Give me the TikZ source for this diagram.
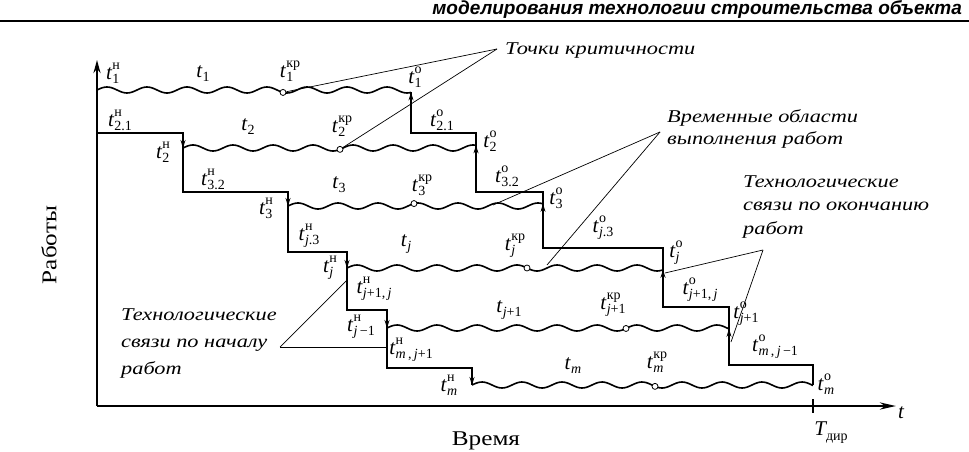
\documentclass[tikz,border=0pt]{standalone}
\usepackage{graphicx}
\usepackage{fontspec}
\setmainfont{Liberation Serif}
\newfontfamily\hdrfont{Liberation Sans}
\usetikzlibrary{arrows.meta}
\newcommand{\tl}[2]{{\itshape t}\kern0.6pt{\fontsize{14}{14}\selectfont\setbox0=\hbox{#1}\setbox2=\hbox{#2}\dimen0=\wd0 \ifdim\wd2>\dimen0 \dimen0=\wd2\fi\rlap{\raisebox{-4pt}{\box0}}\rlap{\raisebox{10pt}{\box2}}\kern\dimen0}}
\newcommand{\jj}{{\itshape j}}
\newcommand{\mm}{{\itshape m}}
\newcommand{\annlines}[1]{\scalebox{1.24}[1]{\begin{tabular}[t]{@{}l@{}}#1\end{tabular}}}
\tikzset{
  axisline/.style={line width=2.6pt},
  stepline/.style={line width=2.6pt, line join=miter},
  wavy/.style={line width=1.6pt},
  thinline/.style={line width=0.7pt},
  crit/.style={circle, draw, line width=0.8pt, fill=white, inner sep=0pt, minimum size=6pt},
  lab/.style={font=\fontsize{21}{21}\selectfont, inner sep=0pt},
  ann/.style={font=\itshape\fontsize{18}{22}\selectfont, inner sep=0pt, anchor=base west},
  arr/.style={-{Stealth[length=8pt,width=5pt]}, line width=1pt},
  declare function={wv(\u,\a,\b)=\b-3*sin(9*(\u-\a));}
}
\begin{document}
\begin{tikzpicture}[x=1pt,y=-1pt]
\useasboundingbox (0,0) rectangle (969,452);
% header
\node[anchor=base east, inner sep=0pt, font=\hdrfont\bfseries\itshape\fontsize{19}{19}\selectfont] (hdr) at (962,15) {моделирования технологии строительства объекта};
\coordinate (hl) at (0,21); \coordinate (hr) at (969,21);
\draw[line width=1.4pt] (hl) -- (hr);
% axes
\coordinate (O) at (97,406);
\coordinate (ytop) at (97,60);
\coordinate (xend) at (896,406);
\draw[axisline, -{Stealth[length=13pt,width=7pt]}] (O) -- (ytop);
\draw[axisline, -{Stealth[length=16pt,width=7pt]}] (O) -- (xend);
\coordinate (tk1) at (813,399); \coordinate (tk2) at (813,413);
\draw[line width=1.4pt] (tk1) -- (tk2);
\node[font=\itshape\fontsize{21}{21}\selectfont, inner sep=0pt] (tax) at (901,413) {t};
\node[inner sep=0pt] (Tdir) at (831,433) {{\itshape\fontsize{21}{21}\selectfont T}{\fontsize{14}{14}\selectfont\raisebox{-5pt}{дир}}};
\node[font=\fontsize{21}{21}\selectfont, inner sep=0pt, anchor=base] (xlab) at (486,445) {\scalebox{1.2}[1]{Время}};
\node[font=\fontsize{21}{21}\selectfont, inner sep=0pt, rotate=90] (ylab) at (49,245) {\scalebox{1.2}[1]{Работы}};
% waves
\draw[wavy] plot[domain=97:411, samples=160] (\x,{wv(\x,97,90)});
\draw[wavy] plot[domain=183:476, samples=160] (\x,{wv(\x,183,148)});
\draw[wavy] plot[domain=288:543, samples=160] (\x,{wv(\x,288,206)});
\draw[wavy] plot[domain=347:663, samples=160] (\x,{wv(\x,347,268)});
\draw[wavy] plot[domain=387:729, samples=160] (\x,{wv(\x,387,328)});
\draw[wavy] plot[domain=472:813, samples=160] (\x,{wv(\x,472,385)});
% wave start / end points
\coordinate (s2) at (183,{wv(183,183,148)});
\coordinate (s3) at (288,{wv(288,288,206)});
\coordinate (sj) at (347,{wv(347,347,268)});
\coordinate (sj1) at (387,{wv(387,387,328)});
\coordinate (sm) at (472,{wv(472,472,385)});
\coordinate (e1) at (411,{wv(411,97,90)});
\coordinate (e2) at (476,{wv(476,183,148)});
\coordinate (e3) at (543,{wv(543,288,206)});
\coordinate (ej) at (663,{wv(663,347,268)});
\coordinate (ej1) at (729,{wv(729,387,328)});
\coordinate (em) at (813,{wv(813,472,385)});
% start-to-start step line
\coordinate (a0) at (97,133);
\draw[stepline] (a0) -- (183,133) -- (183,192) -- (288,192) -- (288,252) -- (347,252) -- (347,310) -- (387,310) -- (387,368) -- (472,368) -- (sm);
\draw[arr] (183,136) -- (s2);
\draw[arr] (288,195) -- (s3);
\draw[arr] (347,255) -- (sj);
\draw[arr] (387,313) -- (sj1);
\draw[arr] (472,371) -- (sm);
% end-to-end step line
\draw[stepline] (e1) -- (411,133) -- (476,133) -- (476,192) -- (543,192) -- (543,248) -- (663,248) -- (663,307) -- (729,307) -- (729,365) -- (813,365) -- (em);
\draw[arr] (411,105) -- (e1);
\draw[arr] (476,162) -- (e2);
\draw[arr] (543,220) -- (e3);
\draw[arr] (663,284) -- (ej);
\draw[arr] (729,342) -- (ej1);
% critical points
\node[crit] (c1) at (283,{wv(283,97,90)}) {};
\node[crit] (c2) at (340,{wv(340,183,148)}) {};
\node[crit] (c3) at (414,{wv(414,288,206)}) {};
\node[crit] (cj) at (527,{wv(527,347,268)}) {};
\node[crit] (cj1) at (626,{wv(626,387,328)}) {};
\node[crit] (cm) at (655,{wv(655,472,385)}) {};
% labels row 1
\node[lab] (l1n) at (113,73) {\tl{1}{н}};
\node[lab] (l1) at (203,74) {\tl{1}{}};
\node[lab] (l1k) at (290,71) {\tl{1}{кр}};
\node[lab] (l1o) at (415,77) {\tl{1}{о}};
% row 2
\node[lab] (l21n) at (120,120) {\tl{2.1}{н}};
\node[lab] (l2) at (248,127) {\tl{2}{}};
\node[lab] (l2k) at (342,126) {\tl{2}{кр}};
\node[lab] (l2n) at (163,152) {\tl{2}{н}};
\node[lab] (l21o) at (442,120) {\tl{2.1}{о}};
\node[lab] (l2o) at (490,141) {\tl{2}{о}};
% row 3
\node[lab] (l32n) at (213,179) {\tl{3.2}{н}};
\node[lab] (l3) at (339,185) {\tl{3}{}};
\node[lab] (l3n) at (266,208) {\tl{3}{н}};
\node[lab] (l3k) at (422,185) {\tl{3}{кр}};
\node[lab] (l32o) at (507,176) {\tl{3.2}{о}};
\node[lab] (l3o) at (556,198) {\tl{3}{о}};
% row j
\node[lab] (lj3n) at (309,236) {\tl{\jj.3}{н}};
\node[lab] (ljn) at (330,268) {\tl{\jj}{н}};
\node[lab] (lj) at (406,244) {\tl{\jj}{}};
\node[lab] (ljk) at (515,246) {\tl{\jj}{кр}};
\node[lab] (lj3o) at (603,228) {\tl{\jj.3}{о}};
\node[lab] (ljo) at (676,253) {\tl{\jj}{о}};
% row j+1
\node[lab] (lj1jn) at (374,289) {\tl{\jj+1,\,\jj}{н}};
\node[lab] (lj1) at (509,310) {\tl{\jj+1}{}};
\node[lab] (lj1k) at (613,305) {\tl{\jj+1}{кр}};
\node[lab] (ljm1n) at (361,327) {\tl{\jj\,−1}{н}};
\node[lab] (lj1jo) at (700,290) {\tl{\jj+1,\,\jj}{о}};
\node[lab] (lj1o) at (746,314) {\tl{\jj+1}{о}};
% row m
\node[lab] (lmj1n) at (411,350) {\tl{\mm\,,\,\jj+1}{н}};
\node[lab] (lm) at (573,366) {\tl{\mm}{}};
\node[lab] (lmn) at (449,385) {\tl{\mm}{н}};
\node[lab] (lmk) at (657,362) {\tl{\mm}{кр}};
\node[lab] (lmjo) at (775,347) {\tl{\mm\,,\,\jj\,−1}{о}};
\node[lab] (lmo) at (826,384) {\tl{\mm}{о}};
% annotations
\node[ann] (tk) at (505,55) {\annlines{Точки критичности}};
\coordinate (tka) at (497,49);
\draw[thinline] (tka) -- (c1);
\draw[thinline] (tka) -- (c2);
\node[ann] (vo) at (667,122) {\annlines{Временные области\\выполнения работ}};
\coordinate (voa) at (660,132);
\coordinate (vo1) at (493,205);
\coordinate (vo2) at (547,265);
\draw[thinline] (voa) -- (vo1);
\draw[thinline] (voa) -- (vo2);
\node[ann, font=\itshape\fontsize{18}{23.5}\selectfont] (te) at (743,187) {\annlines{Технологические\\связи по окончанию\\работ}};
\coordinate (tea) at (763,250);
\coordinate (te1) at (665,273);
\coordinate (te2) at (731,342);
\draw[thinline] (tea) -- (te1);
\draw[thinline] (tea) -- (te2);
\node[ann, font=\itshape\fontsize{18}{27}\selectfont] (ts) at (121,320) {\annlines{Технологические\\связи по началу\\работ}};
\coordinate (tsa) at (280,347);
\coordinate (ts1) at (387,347);
\coordinate (ts2) at (347,280);
\draw[thinline] (tsa) -- (ts1);
\draw[thinline] (tsa) -- (ts2);
\end{tikzpicture}
\end{document}
